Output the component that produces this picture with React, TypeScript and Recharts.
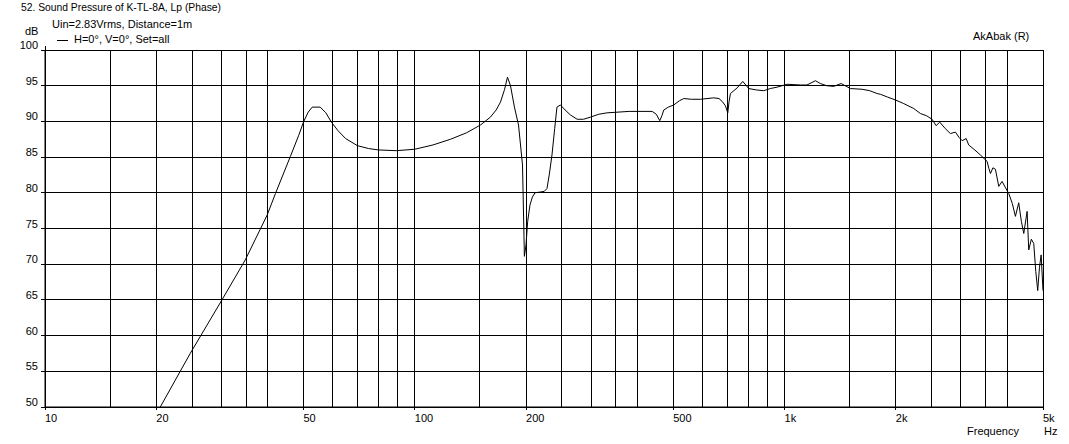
import React from 'react';
import { LineChart, Line, XAxis, YAxis, CartesianGrid } from 'recharts';

const FREQ = [
  20.5, 24.7, 30.1, 34.8, 39.9, 42, 46.1, 48.5, 50.1, 51.5, 52.8, 55.5, 57.5, 59.5, 62, 65, 70, 75, 79.8, 89.2,
  100, 112, 124.9, 138, 150.6, 160.2, 166, 170.5, 175, 178.1, 181.5, 186, 190.8, 195.6, 197.4, 197.9, 199.9, 202,
  204.9, 208, 211.4, 218, 224, 227.8, 231, 235, 239, 242.4, 247.7, 255, 263.6, 274.9, 286, 298.6, 314.5, 331.2,
  380, 438.5, 450, 459.8, 466, 471.4, 485, 501.6, 520, 533.9, 560, 592.4, 643.7, 665, 678, 692, 702.2, 708, 714.1,
  744.6, 770.9, 800.4, 840, 878.6, 915, 955, 1016, 1104, 1150, 1212, 1250, 1300, 1358, 1422, 1508, 1621, 1700,
  1780, 1817, 1900, 1995, 2100, 2236, 2331, 2420, 2506, 2570, 2628, 2720, 2809, 2899, 2960, 3023, 3099, 3148,
  3270, 3386, 3530, 3570, 3605, 3660, 3718, 3796, 3875, 3950, 4040, 4130, 4211, 4298, 4370, 4436, 4529, 4575,
  4650, 4720, 4780, 4838, 4890, 4942, 5000,
];
const SPL = [
  50.0, 57.5, 65.0, 70.6, 76.9, 79.9, 85.1, 88.0, 90.0, 91.3, 92.0, 92.0, 91.2, 89.9, 88.7, 87.6, 86.6, 86.2, 86.0, 85.9,
  86.1, 86.7, 87.5, 88.4, 89.5, 90.6, 91.6, 92.7, 94.5, 96.2, 95.0, 92.0, 89.5, 83.9, 74.0, 71.1, 72.7, 76.0,
  78.3, 79.4, 80.0, 80.1, 80.2, 80.6, 82.5, 85.3, 89.0, 92.0, 92.3, 91.6, 90.9, 90.3, 90.3, 90.6, 91.0, 91.2,
  91.4, 91.4, 91.0, 90.1, 90.8, 91.6, 92.0, 92.3, 92.9, 93.2, 93.1, 93.1, 93.3, 93.2, 92.8, 92.2, 91.2, 92.8, 93.9,
  94.7, 95.6, 94.6, 94.4, 94.3, 94.6, 94.8, 95.2, 95.1, 95.1, 95.7, 95.3, 95.0, 94.9, 95.3, 94.6, 94.5, 94.3,
  93.9, 93.8, 93.4, 93.0, 92.5, 91.8, 91.1, 90.8, 90.3, 89.4, 89.9, 89.0, 88.3, 88.5, 87.8, 87.3, 87.6, 86.7,
  86.0, 85.3, 84.4, 83.4, 82.7, 83.5, 83.3, 80.9, 81.6, 80.8, 79.9, 78.5, 76.7, 78.6, 76.0, 74.3, 77.4, 72.0,
  73.5, 72.9, 69.0, 66.3, 69.5, 71.3, 66.3,
];

const GRID_FREQS = [
  10, 15, 20, 25, 30, 35, 40, 50, 60, 70, 80, 90, 100, 150, 200, 250, 300, 350, 400, 500, 600, 700, 800, 900,
  1000, 1500, 2000, 2500, 3000, 3500, 4000, 5000,
];
const MAJOR_FREQS = [10, 20, 50, 100, 200, 500, 1000, 2000, 5000];
const MAJOR_LABELS = ['10', '20', '50', '100', '200', '500', '1k', '2k', '5k'];
const DB_TICKS = [50, 55, 60, 65, 70, 75, 80, 85, 90, 95, 100];

const data = FREQ.map((f, i) => ({ f, spl: SPL[i] }));

const FONT = '"Liberation Sans", Arial, sans-serif';

const FreqTick = ({ x, y, payload }: any) => {
  const idx = MAJOR_FREQS.indexOf(payload.value);
  if (idx < 0) return null;
  return (
    <g>
      <line x1={x} y1={y} x2={x} y2={y + 3} stroke="#000" shapeRendering="crispEdges" />
      <text x={x} y={y + 15} fontSize={11} fontFamily={FONT} fill="#000" textAnchor="start">
        {MAJOR_LABELS[idx]}
      </text>
    </g>
  );
};

const DbTick = ({ x, y, payload }: any) => (
  <g>
    <line x1={x - 4} y1={y} x2={x} y2={y} stroke="#000" shapeRendering="crispEdges" />
    {payload.value === 100 && (
      <line x1={x} y1={y - 4} x2={x} y2={y} stroke="#000" shapeRendering="crispEdges" />
    )}
    <text x={x - 7} y={y - 1} fontSize={11} fontFamily={FONT} fill="#000" textAnchor="end">
      {payload.value}
    </text>
  </g>
);

export default function App() {
  return (
    <div style={{ position: 'absolute', left: 0, top: 0, width: 1069, height: 444, background: '#fff' }}>
      <LineChart width={1069} height={444} data={data} margin={{ top: 50, right: 26, bottom: 0, left: 0 }}>
        <CartesianGrid stroke="#000" shapeRendering="crispEdges" />
        <XAxis
          dataKey="f"
          type="number"
          scale="log"
          domain={[10, 5000]}
          allowDataOverflow
          ticks={GRID_FREQS}
          interval={0}
          height={37}
          tickSize={0}
          tickMargin={0}
          tickLine={false}
          axisLine={{ stroke: '#000' }}
          tick={<FreqTick />}
        />
        <YAxis
          type="number"
          domain={[50, 100]}
          allowDataOverflow
          ticks={DB_TICKS}
          interval={0}
          width={45}
          tickSize={0}
          tickMargin={0}
          tickLine={false}
          axisLine={{ stroke: '#000' }}
          tick={<DbTick />}
        />
        <Line
          dataKey="spl"
          type="linear"
          stroke="#000"
          strokeWidth={1}
          dot={false}
          isAnimationActive={false}
        />
      </LineChart>
      <svg
        width={1069}
        height={444}
        style={{ position: 'absolute', left: 0, top: 0, pointerEvents: 'none' }}
        fontFamily={FONT}
        fontSize={11}
      >
        <text x={21} y={11} textLength={200} lengthAdjust="spacingAndGlyphs">
          52. Sound Pressure of K-TL-8A, Lp (Phase)
        </text>
        <text x={52} y={28}>Uin=2.83Vrms, Distance=1m</text>
        <text x={25} y={35}>dB</text>
        <line x1={57} y1={40.5} x2={68} y2={40.5} stroke="#000" />
        <text x={74} y={43}>H=0°, V=0°, Set=all</text>
        <text x={973} y={40}>AkAbak (R)</text>
        <text x={967} y={435}>Frequency</text>
        <text x={1044} y={435}>Hz</text>
      </svg>
    </div>
  );
}
